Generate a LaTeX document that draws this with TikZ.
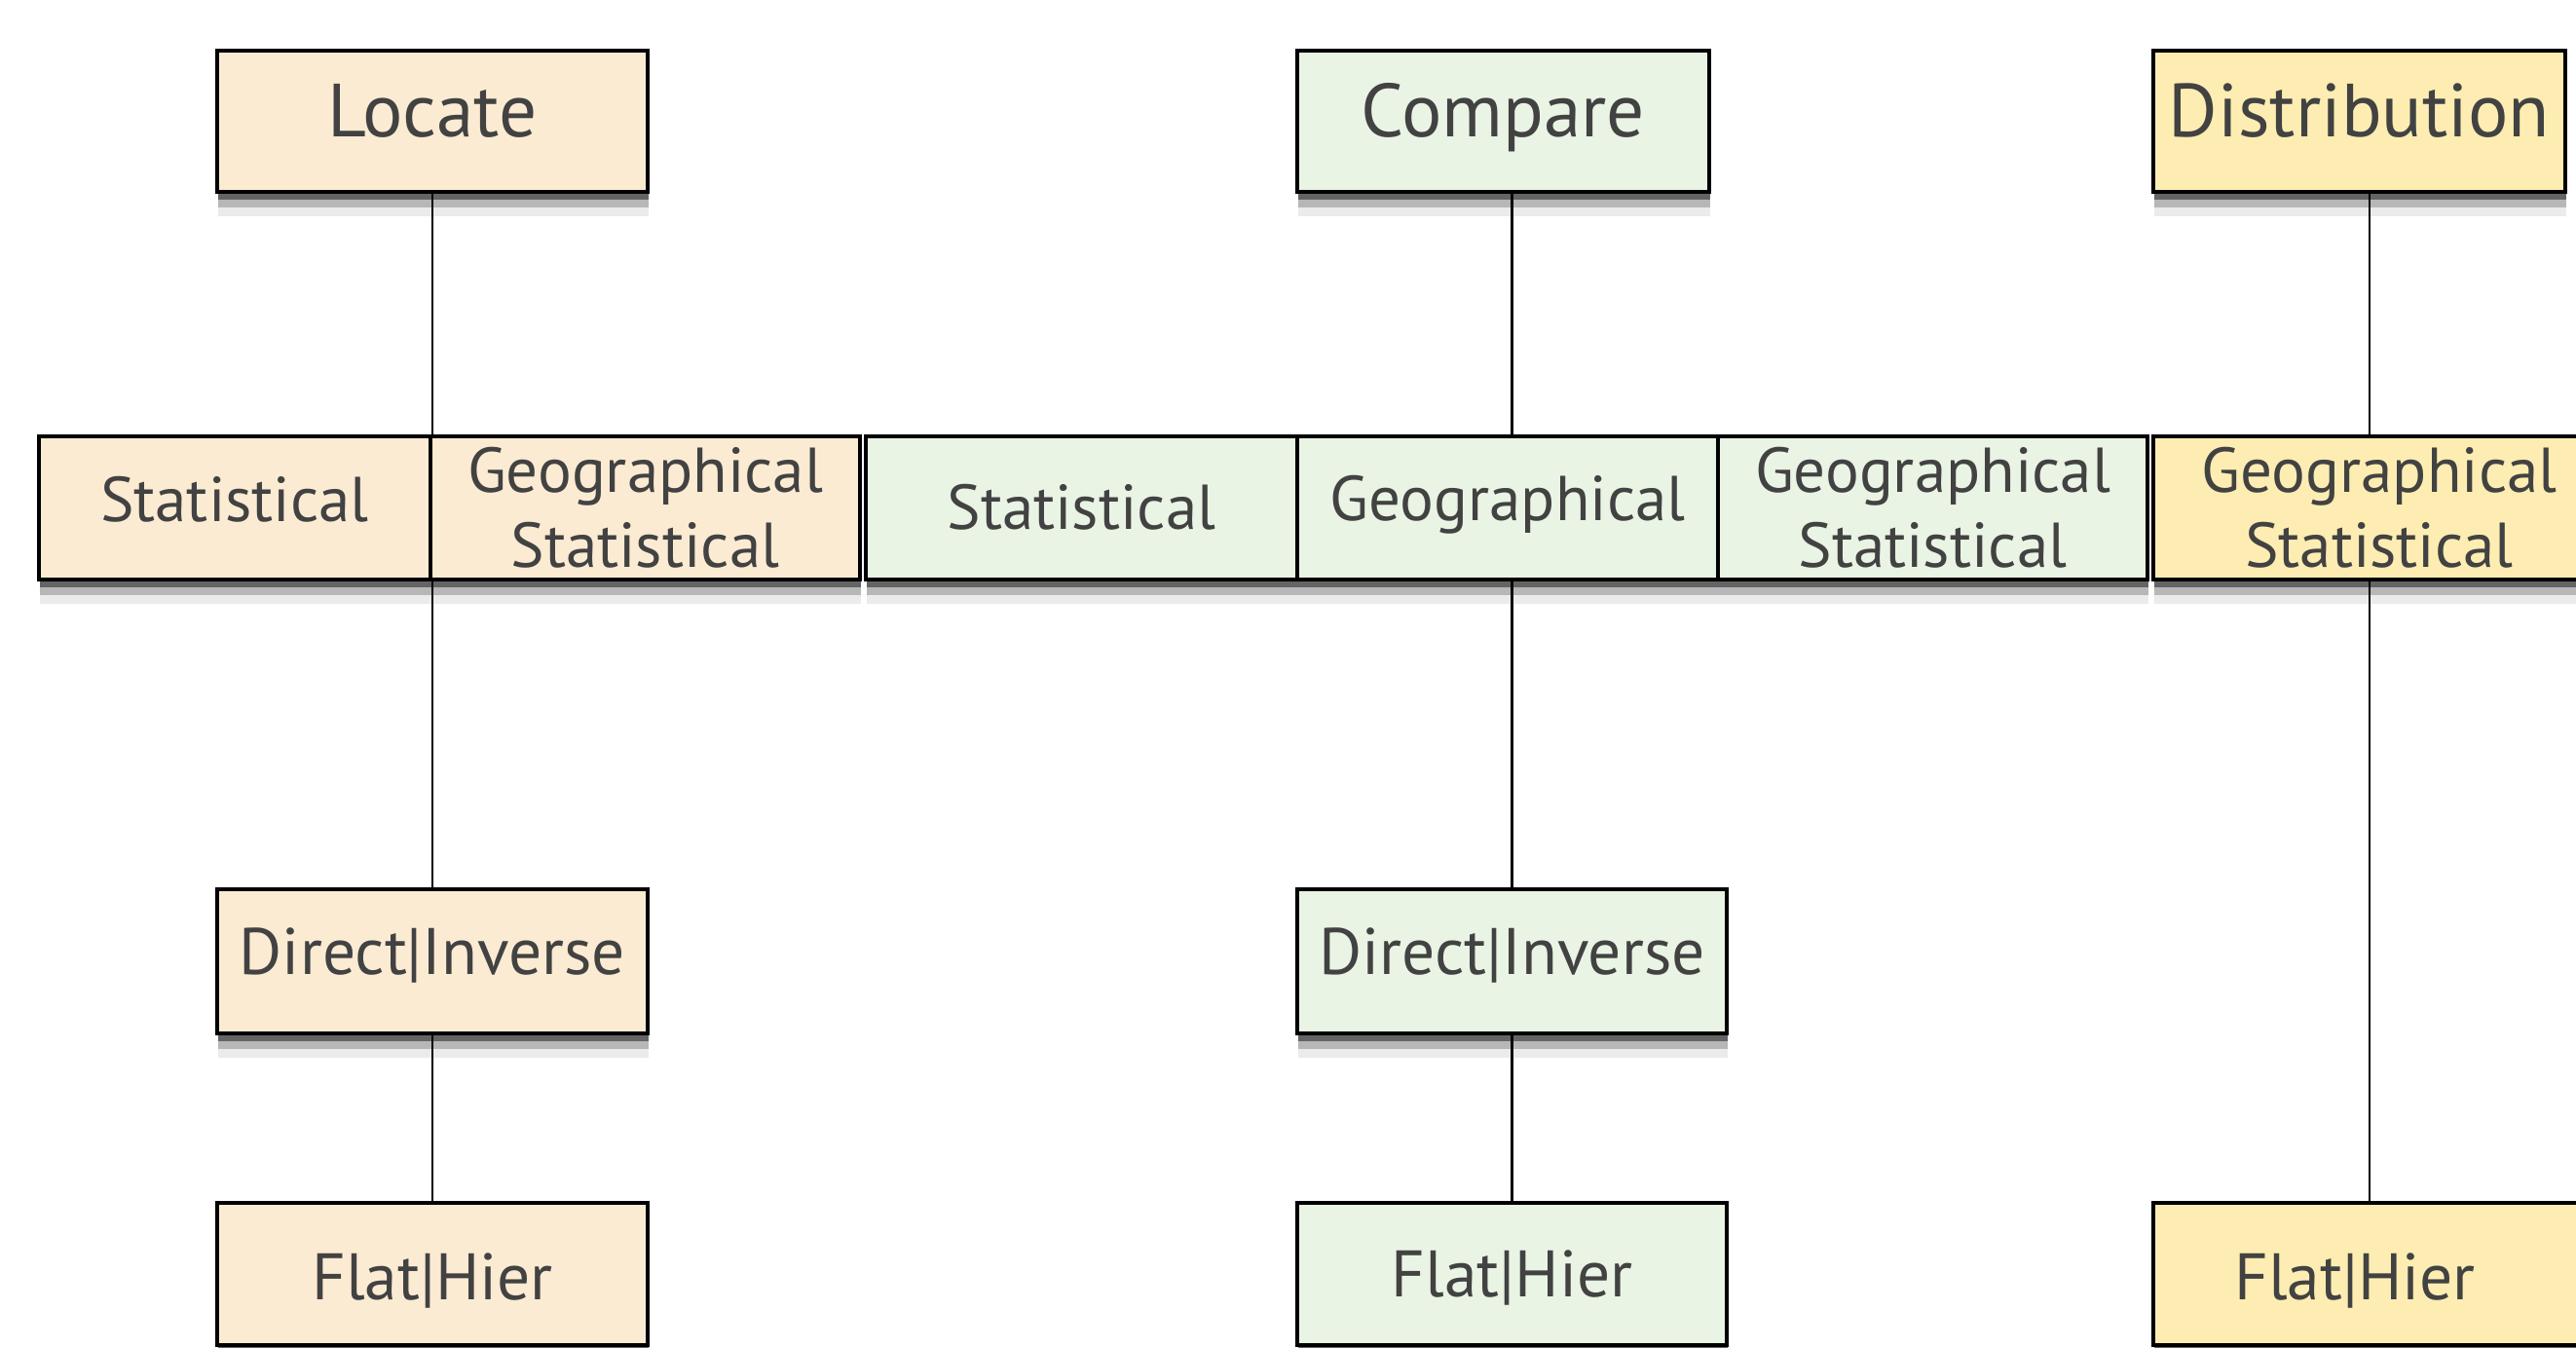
\documentclass[tikz,border=0pt]{standalone}
\usepackage{fontspec}
\setmainfont{PT Sans}
\usetikzlibrary{shadows}
\definecolor{locfill}{HTML}{FCEBD3}
\definecolor{cmpfill}{HTML}{E9F4E4}
\definecolor{distfill}{HTML}{FDEDB2}
\definecolor{txtgray}{HTML}{424242}
\begin{document}
\begin{tikzpicture}[
  box/.style={rectangle, draw=black, line width=1pt, inner sep=0pt,
    minimum height=1.46cm, text=txtgray, align=center,
    font=\fontsize{18.5}{21.9}\selectfont,
    drop shadow={shadow xshift=0.01cm, shadow yshift=-0.25cm, fill=black, opacity=0.08},
    drop shadow={shadow xshift=0.01cm, shadow yshift=-0.16cm, fill=black, opacity=0.22},
    drop shadow={shadow xshift=0.01cm, shadow yshift=-0.08cm, fill=black, opacity=0.45}},
  topbox/.style={box, minimum height=1.45cm, font=\fontsize{22}{26}\selectfont},
  lowbox/.style={box, font=\fontsize{19.2}{23}\selectfont},
  lift/.style={text height=#1, text depth=0pt},
  loc/.style={fill=locfill},
  cmp/.style={fill=cmpfill},
  dist/.style={fill=distfill},
  link/.style={draw=black, line width=0.6pt}
  ]
  \useasboundingbox (0,0) rectangle (26.45,-13.83);
  \clip (0,0) rectangle (26.45,-13.83);

  % top row
  \node[topbox, loc, lift=0.33cm, minimum width=4.42cm] (locate) at (4.44,-1.245) {Locate};
  \node[topbox, cmp, lift=0.33cm, minimum width=4.23cm] (compare) at (15.435,-1.245) {Compare};
  \node[topbox, dist, lift=0.33cm, minimum width=4.23cm] (distrib) at (24.225,-1.245) {Distribution};

  % middle row
  \node[box, loc, lift=0.27cm, minimum width=4.02cm, minimum height=1.47cm] (lstat) at (2.41,-5.215) {Statistical};
  \node[box, loc, minimum width=4.41cm, minimum height=1.47cm] (lgeostat) at (6.625,-5.215) {Geographical\\Statistical};
  \node[box, cmp, lift=0.44cm, minimum width=4.43cm, minimum height=1.47cm] (cstat) at (11.105,-5.215) {Statistical};
  \node[box, cmp, lift=0.25cm, minimum width=4.32cm, minimum height=1.47cm] (cgeo) at (15.48,-5.215) {Geographical};
  \node[box, cmp, minimum width=4.41cm, minimum height=1.47cm] (cgeostat) at (19.845,-5.215) {Geographical\\Statistical};
  \node[box, dist, minimum width=4.64cm, minimum height=1.47cm] (dgeostat) at (24.43,-5.215) {Geographical\\Statistical};

  % lower rows
  \node[lowbox, loc, lift=0.27cm, minimum width=4.42cm, minimum height=1.48cm] (locdir) at (4.44,-9.87) {Direct|Inverse};
  \node[lowbox, cmp, lift=0.27cm, minimum width=4.41cm, minimum height=1.48cm] (cmpdir) at (15.525,-9.87) {Direct|Inverse};
  \node[lowbox, loc, lift=0.52cm, minimum width=4.42cm] (locflat) at (4.44,-13.08) {Flat|Hier};
  \node[lowbox, cmp, lift=0.46cm, minimum width=4.41cm] (cmpflat) at (15.525,-13.08) {Flat|Hier};
  \node[lowbox, dist, lift=0.52cm, minimum width=4.64cm] (distflat) at (24.43,-13.08) {\hspace*{-0.5cm}Flat|Hier};

  % the connections
  \coordinate (dline) at (24.33,0);
  \draw[link] (locate) -- (locate |- lstat.north);
  \draw[link] (locate |- lstat.south) -- (locdir);
  \draw[link] (locdir) -- (locflat);
  \draw[link] (cmpdir |- compare.south) -- (cmpdir |- cgeo.north);
  \draw[link] (cmpdir |- cgeo.south) -- (cmpdir);
  \draw[link] (cmpdir) -- (cmpflat);
  \draw[link] (dline |- distrib.south) -- (dline |- dgeostat.north);
  \draw[link] (dline |- dgeostat.south) -- (dline |- distflat.north);
\end{tikzpicture}
\end{document}
